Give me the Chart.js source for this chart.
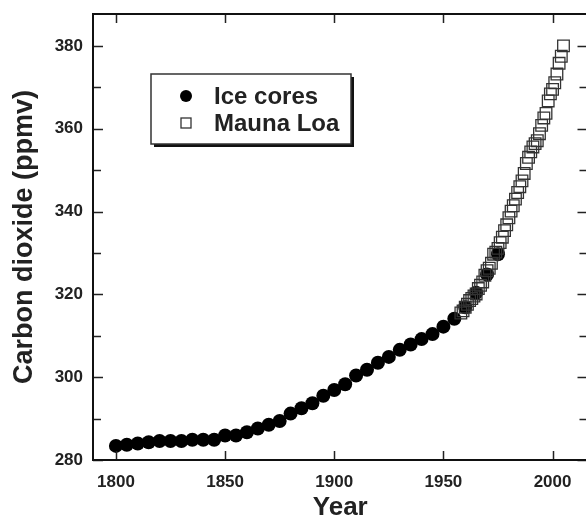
<!DOCTYPE html>
<html>
<head>
<meta charset="utf-8">
<script src="https://cdn.jsdelivr.net/npm/chart.js@4.4.1/dist/chart.umd.min.js"></script>
<style>
  html, body { margin: 0; padding: 0; background: #fff; overflow: hidden; }
  #wrap { width: 586px; height: 523px; overflow: hidden; }
  canvas { display: block; }
</style>
</head>
<body>
<div id="wrap"><canvas id="co2Chart" width="597" height="523" style="width:597px;height:523px"></canvas></div>
<script>
// ice core record, every 5 years
const iceYears = [1800, 1805, 1810, 1815, 1820, 1825, 1830, 1835, 1840, 1845, 1850, 1855,
  1860, 1865, 1870, 1875, 1880, 1885, 1890, 1895, 1900, 1905, 1910, 1915,
  1920, 1925, 1930, 1935, 1940, 1945, 1950, 1955, 1960, 1965, 1970, 1975];
const iceCO2 = [283.4, 283.7, 284.0, 284.3, 284.6, 284.6, 284.6, 284.9, 284.9, 284.9, 285.9, 285.9,
  286.7, 287.6, 288.5, 289.4, 291.2, 292.5, 293.7, 295.5, 296.9, 298.3, 300.4, 301.8,
  303.5, 304.9, 306.6, 307.9, 309.2, 310.4, 312.2, 314.1, 316.9, 320.4, 324.8, 329.7];

// Mauna Loa annual means
const maunaYears = [1958, 1959, 1960, 1961, 1962, 1963, 1964, 1965, 1966, 1967, 1968, 1969,
  1970, 1971, 1972, 1973, 1974, 1975, 1976, 1977, 1978, 1979, 1980, 1981,
  1982, 1983, 1984, 1985, 1986, 1987, 1988, 1989, 1990, 1991, 1992, 1993,
  1994, 1995, 1996, 1997, 1998, 1999, 2000, 2001, 2002, 2003, 2004, 2005];
const maunaCO2 = [315.5, 316.0, 316.9, 317.6, 318.5, 319.0, 319.6, 320.1, 321.4, 322.2, 323.0, 324.6,
  325.7, 326.3, 327.5, 329.7, 330.2, 331.1, 332.5, 333.8, 335.4, 336.8, 338.5, 340.1,
  341.4, 343.0, 344.6, 346.0, 347.4, 349.2, 351.6, 353.1, 354.4, 355.6, 356.4, 357.1,
  358.8, 360.8, 362.6, 363.7, 366.7, 368.4, 369.5, 371.1, 373.2, 375.8, 377.5, 380.0];

const xTicks = [1800, 1850, 1900, 1950, 2000];
const yTicks = [280, 290, 300, 310, 320, 330, 340, 350, 360, 370, 380];
const yLabelStep = 20;

const FONT = '"Liberation Sans", Arial, sans-serif';
const INK = '#222';

// frame with inward tick marks on all four sides
const framePlugin = {
  id: 'frame',
  afterDatasetsDraw(chart) {
    const { ctx, chartArea: a, scales } = chart;
    ctx.save();
    ctx.strokeStyle = INK;
    ctx.lineWidth = 1.5;
    ctx.beginPath();
    for (const v of yTicks) {
      const y = Math.round(scales.y.getPixelForValue(v)) + 0.5;
      const len = v % yLabelStep === 0 ? 10 : 8;
      ctx.moveTo(a.left, y); ctx.lineTo(a.left + len, y);
      ctx.moveTo(a.right, y); ctx.lineTo(a.right - len, y);
    }
    for (const v of xTicks) {
      const x = Math.round(scales.x.getPixelForValue(v)) + 0.5;
      ctx.moveTo(x, a.bottom); ctx.lineTo(x, a.bottom - 9);
      ctx.moveTo(x, a.top); ctx.lineTo(x, a.top + 9);
    }
    ctx.stroke();
    ctx.lineWidth = 2;
    ctx.strokeStyle = '#111';
    ctx.strokeRect(a.left, a.top, a.right - a.left, a.bottom - a.top);
    ctx.restore();
  }
};

// boxed legend with drop shadow, inside the plot
const legendPlugin = {
  id: 'boxLegend',
  afterDraw(chart) {
    const { ctx } = chart;
    const bx = 151, by = 74, bw = 200, bh = 70;
    ctx.save();
    ctx.fillStyle = '#111';
    ctx.fillRect(bx + 3, by + 3, bw, bh);
    ctx.fillStyle = '#fff';
    ctx.fillRect(bx, by, bw, bh);
    ctx.strokeStyle = '#333';
    ctx.lineWidth = 1.5;
    ctx.strokeRect(bx, by, bw, bh);
    ctx.font = 'bold 24px ' + FONT;
    ctx.textBaseline = 'middle';
    chart.data.datasets.forEach((ds, i) => {
      const cy = by + 22 + i * 27;
      const cx = bx + 35;
      if (ds.pointStyle === 'circle') {
        ctx.beginPath();
        ctx.arc(cx, cy, 6, 0, Math.PI * 2);
        ctx.fillStyle = '#000';
        ctx.fill();
      } else {
        ctx.strokeStyle = '#333';
        ctx.lineWidth = 1.3;
        ctx.strokeRect(cx - 5, cy - 5, 10, 10);
      }
      ctx.fillStyle = INK;
      ctx.fillText(ds.label, bx + 63, cy + 1);
    });
    ctx.restore();
  }
};

new Chart(document.getElementById('co2Chart'), {
  type: 'scatter',
  data: {
    datasets: [
      {
        label: 'Ice cores',
        data: iceYears.map((x, i) => ({ x, y: iceCO2[i] })),
        pointStyle: 'circle',
        pointRadius: 7,
        backgroundColor: '#000',
        borderColor: '#000',
        borderWidth: 0,
        order: 1
      },
      {
        label: 'Mauna Loa',
        data: maunaYears.map((x, i) => ({ x, y: maunaCO2[i] })),
        pointStyle: 'rect',
        pointRadius: 8.2,
        backgroundColor: 'rgba(0,0,0,0)',
        borderColor: '#333',
        borderWidth: 1.3,
        order: 0
      }
    ]
  },
  options: {
    responsive: false,
    animation: false,
    layout: { padding: { top: 14, right: 3, left: 0, bottom: 0 } },
    plugins: { legend: { display: false }, tooltip: { enabled: false } },
    scales: {
      x: {
        type: 'linear',
        min: 1789.5,
        max: 2016,
        afterBuildTicks: s => { s.ticks = xTicks.map(v => ({ value: v })); },
        afterFit: s => { s.height = 63; s.paddingLeft = 0; s.paddingRight = 0; },
        grid: { display: false, drawTicks: false },
        border: { display: false },
        ticks: {
          padding: 12,
          color: INK,
          font: { family: FONT, size: 17, weight: 'bold' },
          callback: v => String(v)
        },
        title: {
          display: true,
          text: 'Year',
          color: INK,
          font: { family: FONT, size: 26, weight: 'bold', lineHeight: 1.2 },
          padding: { top: 0, bottom: 0 }
        }
      },
      y: {
        type: 'linear',
        min: 280,
        max: 387.7,
        afterBuildTicks: s => { s.ticks = yTicks.map(v => ({ value: v })); },
        afterFit: s => { s.width = 93; s.paddingTop = 0; s.paddingBottom = 0; },
        grid: { display: false, drawTicks: false },
        border: { display: false },
        ticks: {
          padding: 10,
          color: INK,
          font: { family: FONT, size: 17, weight: 'bold' },
          callback: v => (v % yLabelStep === 0 ? String(v) : '')
        },
        title: {
          display: true,
          text: 'Carbon dioxide (ppmv)',
          color: INK,
          font: { family: FONT, size: 27, weight: 'bold', lineHeight: 1.2 },
          padding: { top: 8, bottom: 0 }
        }
      }
    }
  },
  plugins: [framePlugin, legendPlugin]
});
</script>
</body>
</html>
